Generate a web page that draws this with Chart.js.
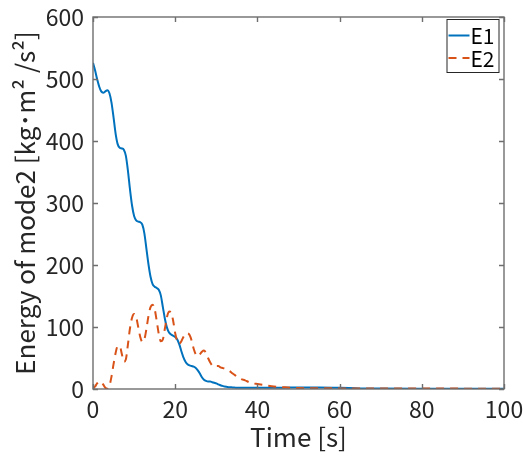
<!DOCTYPE html>
<html>
<head>
<meta charset="utf-8">
<script src="https://cdn.jsdelivr.net/npm/chart.js@4.4.1/dist/chart.umd.min.js"></script>
<style>
  html, body { margin: 0; padding: 0; background: #ffffff; }
  #wrap { width: 523px; height: 457px; }
</style>
</head>
<body>
<div id="wrap"><canvas id="c" width="523" height="457"></canvas></div>
<script>
// ---- data ----
const timeS = [0,0.5,1,1.5,2,2.5,3,3.5,4,4.5,5,5.5,6,6.5,7,7.5,8,8.5,9,9.5,10,10.5,11,11.5,12,12.5,13,13.5,14,14.5,15,15.5,16,16.5,17,17.5,18,18.5,19,19.5,20,20.5,21,21.5,22,22.5,23,23.5,24,24.5,25,25.5,26,26.5,27,27.5,28,28.5,29,29.5,30,30.5,31,31.5,32,33,34,35,36,37,38,39,40,42,44,46,50,55,60,65,70,80,90,100];
const energyE1 = [526,514,500,488,480,478,480,482,477,462,438,412,395,389,388,386,376,352,322,296,279,272,270,269,265,251,226,201,181,169,165,163,160,151,132,113,99,91,88,86,84,80,72,61,51,44,40,38,37,36,34,30,25,19,15,13,12,12,11,10,9,7.5,6,5,4,3,2.5,2,2,2,2,2,2,2,2,2,2.5,2.5,2,1,0.7,0.5,0.4,0.3];
const energyE2 = [0,4,9,12,11,7,2,0.5,5,20,40,58,69,69,57,44,48,72,98,115,121,116,100,84,76,80,97,118,132,136,129,110,89,77,80,98,116,125,124,110,90,77,73,77,84,89,90,87,78,65,56,53,56,60,62,58,50,43,38,36,37,37,35,34,33,30,25,20,16,14,11,9,8,6,4,3,1.5,1.2,1,0.9,0.8,0.7,0.6,0.5];
const seriesNames = ['E1', 'E2'];
const xTicks = [0, 20, 40, 60, 80, 100];
const yTicks = [0, 100, 200, 300, 400, 500, 600];
const xTitle = 'Time [s]';
const yTitle = 'Energy of mode2 [kg\uFF65m\u00B2 /s\u00B2]';

const FONT = '"Noto Sans CJK JP", "Noto Sans", sans-serif';
const TXT = '#262626';
const BLUE = '#0072BD';
const ORANGE = '#D95319';

const toPts = (vals) => timeS.map((t, i) => ({ x: t, y: vals[i] }));

const framePlugin = {
  id: 'frameTicks',
  afterDatasetsDraw(chart) {
    const { ctx, chartArea: a, scales: { x, y } } = chart;
    ctx.save();
    ctx.strokeStyle = '#6e6e6e';
    ctx.lineWidth = 1.4;
    ctx.beginPath();
    xTicks.forEach(v => {
      const px = Math.round(x.getPixelForValue(v)) + 0.5;
      ctx.moveTo(px, a.bottom); ctx.lineTo(px, a.bottom - 5);
      ctx.moveTo(px, a.top); ctx.lineTo(px, a.top + 5);
    });
    yTicks.forEach(v => {
      const py = Math.round(y.getPixelForValue(v)) + 0.5;
      ctx.moveTo(a.left, py); ctx.lineTo(a.left + 5, py);
      ctx.moveTo(a.right, py); ctx.lineTo(a.right - 5, py);
    });
    ctx.stroke();
    ctx.strokeRect(a.left, a.top, a.right - a.left, a.bottom - a.top);

    // legend box (top-right inside the axes)
    const bw = 52, bh = 53;
    const bx = a.right - 5.5 - bw, by = a.top + 2;
    ctx.fillStyle = '#ffffff';
    ctx.fillRect(bx, by, bw, bh);
    ctx.strokeStyle = '#262626';
    ctx.lineWidth = 1;
    ctx.strokeRect(bx + 0.5, by + 0.5, bw, bh);
    ctx.font = '21px ' + FONT;
    ctx.textBaseline = 'middle';
    ctx.textAlign = 'left';
    chart.data.datasets.forEach((ds, i) => {
      const cy = by + 16.5 + i * 22.5;
      ctx.save();
      ctx.strokeStyle = ds.borderColor;
      ctx.lineWidth = 2;
      ctx.setLineDash(ds.borderDash || []);
      ctx.beginPath();
      ctx.moveTo(bx + 2, cy); ctx.lineTo(bx + 23, cy);
      ctx.stroke();
      ctx.restore();
      ctx.fillStyle = '#000000';
      ctx.fillText(ds.label, bx + 24, cy + 1);
    });
    ctx.restore();
  }
};

new Chart(document.getElementById('c'), {
  type: 'line',
  data: {
    datasets: [
      { label: seriesNames[0], data: toPts(energyE1), borderColor: BLUE, backgroundColor: BLUE,
        borderWidth: 2, pointRadius: 0, cubicInterpolationMode: 'monotone', order: 2 },
      { label: seriesNames[1], data: toPts(energyE2), borderColor: ORANGE, backgroundColor: ORANGE,
        borderWidth: 2, borderDash: [8, 6], pointRadius: 0, cubicInterpolationMode: 'monotone', order: 1 }
    ]
  },
  options: {
    responsive: false,
    animation: false,
    devicePixelRatio: 1,
    layout: { padding: { left: 0, right: 19, top: 17, bottom: 0 } },
    plugins: { legend: { display: false }, tooltip: { enabled: false } },
    scales: {
      x: {
        type: 'linear', min: 0, max: 100,
        afterBuildTicks: (s) => { s.ticks = xTicks.map(v => ({ value: v })); },
        afterFit: (s) => { s.height = 68; s.paddingLeft = 0; s.paddingRight = 0; },
        grid: { display: false, drawTicks: false },
        border: { display: false },
        ticks: { color: TXT, padding: 6, maxRotation: 0, font: { family: FONT, size: 23 } },
        title: { display: true, text: xTitle, color: TXT, padding: { top: 0, bottom: 4 },
                 font: { family: FONT, size: 26 } }
      },
      y: {
        type: 'linear', min: 0, max: 600,
        afterBuildTicks: (s) => { s.ticks = yTicks.map(v => ({ value: v })); },
        afterFit: (s) => { s.width = 93; s.paddingTop = 0; s.paddingBottom = 0; },
        grid: { display: false, drawTicks: false },
        border: { display: false },
        ticks: { color: TXT, padding: 9, font: { family: FONT, size: 23 } },
        title: { display: true, text: yTitle, color: TXT, padding: { top: 10, bottom: 0 },
                 font: { family: FONT, size: 26 } }
      }
    }
  },
  plugins: [framePlugin]
});
</script>
</body>
</html>
